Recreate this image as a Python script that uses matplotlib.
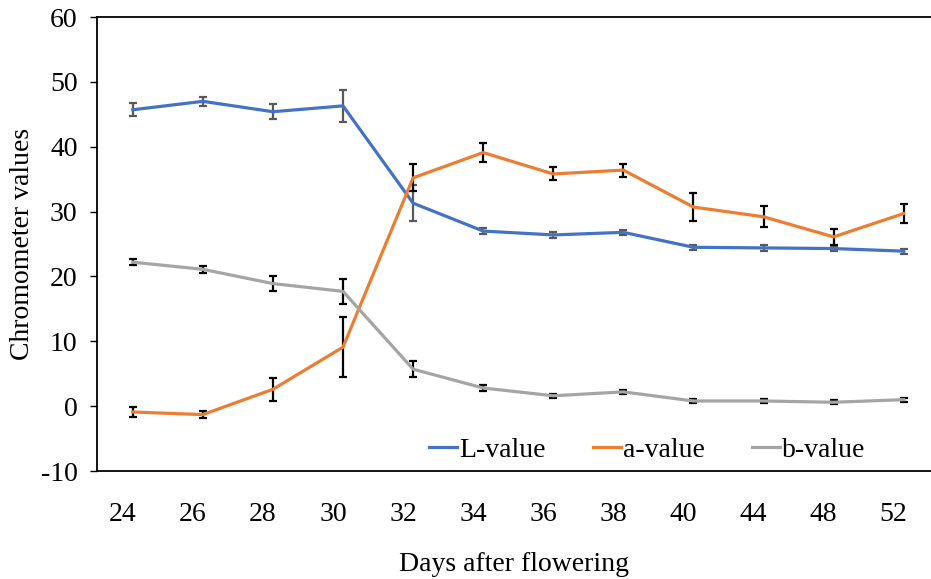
import matplotlib.pyplot as plt
import matplotlib.transforms as mtransforms

plt.rcParams['font.family'] = ['Liberation Serif', 'DejaVu Serif']
plt.rcParams['axes.unicode_minus'] = False

# days after flowering (category labels)
days = ['24', '26', '28', '30', '32', '34', '36', '38', '40', '44', '48', '52']

l_value = [45.7, 47.0, 45.4, 46.3, 31.3, 27.0, 26.4, 26.8, 24.5, 24.4, 24.3, 23.9]
l_err = [1.0, 0.7, 1.2, 2.5, 2.8, 0.4, 0.4, 0.4, 0.4, 0.4, 0.4, 0.4]

a_value = [-0.9, -1.3, 2.6, 9.1, 35.2, 39.1, 35.8, 36.4, 30.7, 29.2, 26.1, 29.7]
a_err = [0.7, 0.6, 1.8, 4.6, 2.1, 1.5, 1.0, 1.0, 2.1, 1.6, 1.2, 1.5]

b_value = [22.2, 21.1, 18.9, 17.7, 5.7, 2.8, 1.6, 2.2, 0.8, 0.8, 0.6, 1.0]
b_err = [0.5, 0.5, 1.1, 1.9, 1.2, 0.4, 0.3, 0.3, 0.3, 0.3, 0.3, 0.3]

fig = plt.figure(figsize=(9.31, 5.79), dpi=100)
ax = fig.add_axes([0.1042, 0.1865, 0.8958, 0.7841])

x = range(len(days))
ax.errorbar(x, l_value, yerr=l_err, color='#4472C4', lw=2.3, ecolor='#595959',
            elinewidth=1.6, capsize=2.8, capthick=1.6, label='L-value', zorder=3)
ax.errorbar(x, a_value, yerr=a_err, color='#ED7D31', lw=2.3, ecolor='black',
            elinewidth=1.6, capsize=2.8, capthick=1.6, label='a-value', zorder=3)
ax.errorbar(x, b_value, yerr=b_err, color='#A5A5A5', lw=2.3, ecolor='black',
            elinewidth=1.6, capsize=2.8, capthick=1.6, label='b-value', zorder=3)

ax.set_xlim(-0.51, 11.39)
ax.set_ylim(-10, 60)
ax.set_yticks(range(-10, 61, 10))
ax.set_xticks(list(x))
ax.set_xticklabels(days)

ax.tick_params(axis='x', length=0, pad=22, labelsize=20)
ax.tick_params(axis='y', length=5, width=1, pad=9, labelsize=20)
# Excel placed the category labels slightly left of the points
shift = mtransforms.ScaledTranslation(-0.1, 0, fig.dpi_scale_trans)
for lab in ax.get_xticklabels():
    lab.set_transform(lab.get_transform() + shift)

ax.spines['right'].set_visible(False)
for s in ['left', 'bottom', 'top']:
    ax.spines[s].set_linewidth(1.3)
    ax.spines[s].set_color('black')

ax.set_ylabel('Chromometer values', fontsize=20, labelpad=4)
ax.set_xlabel('Days after flowering', fontsize=20, labelpad=18)

handles, labels = ax.get_legend_handles_labels()
handles = [h[0] for h in handles]
ax.legend(handles, labels, ncol=3, frameon=False, fontsize=20,
          loc='center', bbox_to_anchor=(0.66, 0.046),
          handlelength=1.0, handletextpad=0.08, columnspacing=1.7,
          borderpad=0, borderaxespad=0)

fig.savefig('out.png', dpi=100)
